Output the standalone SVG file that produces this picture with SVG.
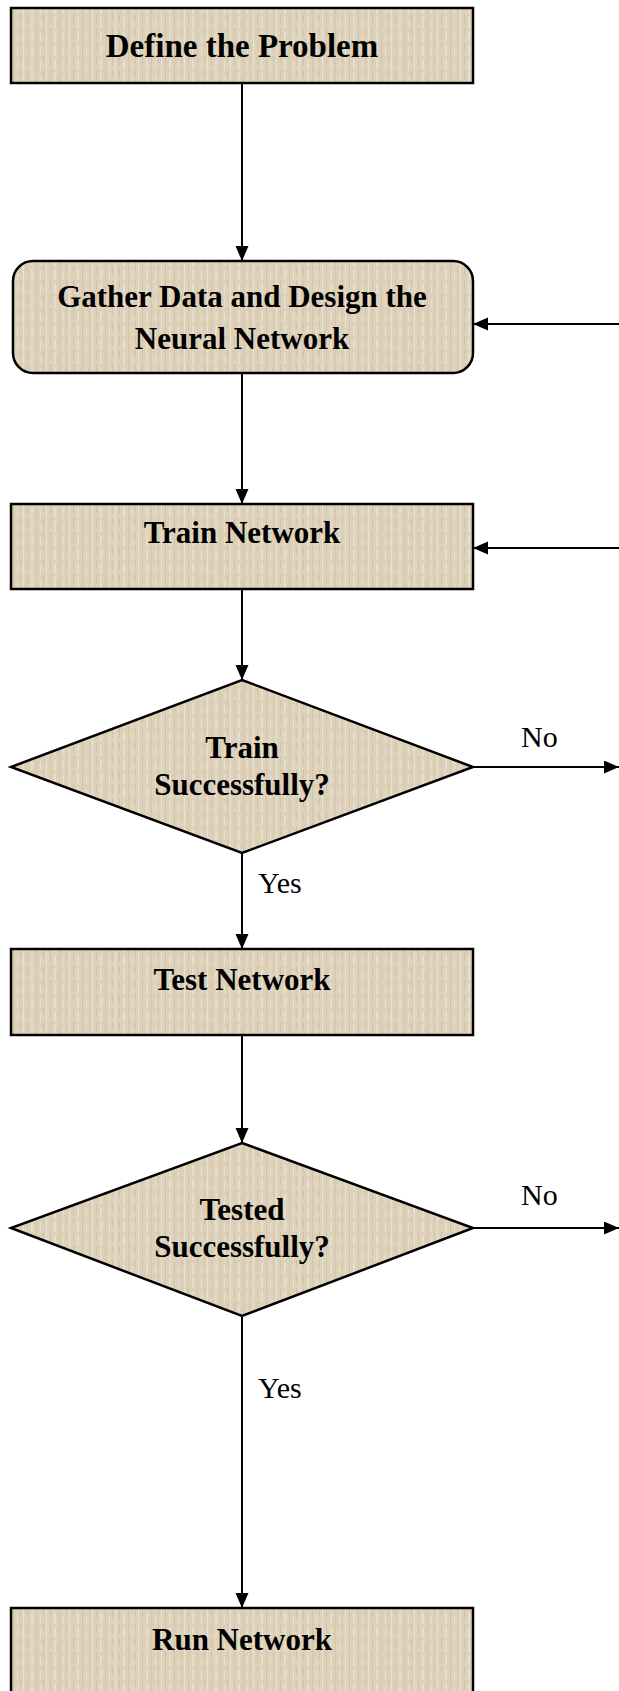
<svg xmlns="http://www.w3.org/2000/svg" width="619" height="1691" viewBox="0 0 619 1691">
<style>
.node{fill:url(#tex);stroke:#000;stroke-width:2.5}
.t{font-family:"Liberation Serif","Times New Roman",serif;font-weight:bold;font-size:31px;fill:#000;text-anchor:middle}
.lbl{font-family:"Liberation Serif","Times New Roman",serif;font-size:30px;fill:#000}
.edge{stroke:#000;stroke-width:2;fill:none;marker-end:url(#arr)}
</style>
<defs>
<pattern id="tex" width="23" height="14" patternUnits="userSpaceOnUse">
<rect width="23" height="14" fill="#ddd1ba"/>
<rect x="0" y="0" width="1" height="14" fill="#e9e2d2"/>
<rect x="4" y="0" width="1" height="9" fill="#cfc2a8"/>
<rect x="8" y="3" width="2" height="11" fill="#e6ddcb"/>
<rect x="13" y="0" width="1" height="14" fill="#d3c6ad"/>
<rect x="17" y="5" width="1" height="9" fill="#e8e0ce"/>
<rect x="20" y="0" width="1" height="7" fill="#d1c4aa"/>
</pattern>
<marker id="arr" markerUnits="userSpaceOnUse" markerWidth="16" markerHeight="14" refX="15" refY="6.5" orient="auto">
<path d="M0,0 L15,6.5 L0,13 z" fill="#000"/>
</marker>
</defs>
<g id="connectors">
<line class="edge" x1="242" y1="83" x2="242" y2="261"/>
<line class="edge" x1="242" y1="373" x2="242" y2="504"/>
<line class="edge" x1="619" y1="324" x2="473" y2="324"/>
<line class="edge" x1="619" y1="548" x2="473" y2="548"/>
<line class="edge" x1="242" y1="589" x2="242" y2="680"/>
<line class="edge" x1="473" y1="767" x2="619" y2="767"/>
<line class="edge" x1="242" y1="853" x2="242" y2="949"/>
<line class="edge" x1="242" y1="1035" x2="242" y2="1143"/>
<line class="edge" x1="473" y1="1228" x2="619" y2="1228"/>
<line class="edge" x1="242" y1="1316" x2="242" y2="1608"/>
<text class="lbl" x="521" y="747">No</text>
<text class="lbl" x="258" y="893">Yes</text>
<text class="lbl" x="521" y="1205">No</text>
<text class="lbl" x="258" y="1398">Yes</text>
</g>
<g id="define">
<rect class="node" x="11" y="8" width="462" height="75"/>
<text class="t" x="242" y="57" style="font-size:33px">Define the Problem</text>
</g>
<g id="gather">
<rect class="node" x="13" y="261" width="460" height="112" rx="20" ry="20"/>
<text class="t" x="242" y="307">Gather Data and Design the</text>
<text class="t" x="242" y="349">Neural Network</text>
</g>
<g id="train">
<rect class="node" x="11" y="504" width="462" height="85"/>
<text class="t" x="242" y="543">Train Network</text>
</g>
<g id="trainok">
<polygon class="node" points="242,680 473,767 242,853 11,767"/>
<text class="t" x="242" y="758">Train</text>
<text class="t" x="242" y="795">Successfully?</text>
</g>
<g id="test">
<rect class="node" x="11" y="949" width="462" height="86"/>
<text class="t" x="242" y="990">Test Network</text>
</g>
<g id="testok">
<polygon class="node" points="242,1143 473,1228 242,1316 11,1228"/>
<text class="t" x="242" y="1220">Tested</text>
<text class="t" x="242" y="1257">Successfully?</text>
</g>
<g id="run">
<rect class="node" x="11" y="1608" width="462" height="100"/>
<text class="t" x="242" y="1650">Run Network</text>
</g>
</svg>
